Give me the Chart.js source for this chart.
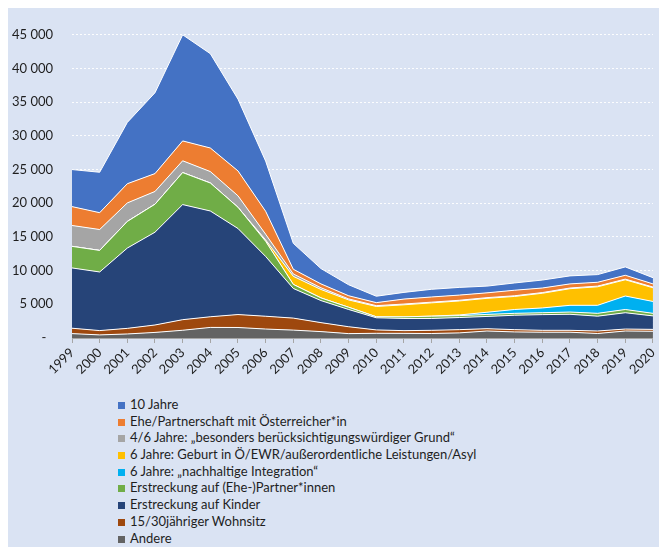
<!DOCTYPE html>
<html lang="de">
<head>
<meta charset="utf-8">
<title>Einbürgerungen nach Rechtsgrund</title>
<script src="https://cdn.jsdelivr.net/npm/chart.js@4.4.1/dist/chart.umd.min.js"></script>
<style>
  html, body { margin: 0; padding: 0; background: #ffffff; overflow: hidden; }
  #panel { position: absolute; left: 8px; top: 8px; width: 651px; height: 539px; background: #dae3f3; }
  #box { position: absolute; left: 0; top: 0; width: 658px; height: 378px; }
  #legende { position: absolute; left: 110px; top: 388px; margin: 0; padding: 0; list-style: none;
             font-family: Lato, sans-serif; font-size: 13px; color: #1e1e1e; }
  #legende li { height: 16.7px; line-height: 16.7px; white-space: nowrap; }
  #legende span { display: inline-block; width: 7px; height: 7px; margin-right: 5px; vertical-align: 0px; }
</style>
</head>
<body>
<div id="panel">
  <div id="box"><canvas id="grafik"></canvas></div>
  <ul id="legende"></ul>
</div>
<script>
const jahre = ['1999', '2000', '2001', '2002', '2003', '2004', '2005', '2006', '2007', '2008', '2009',
               '2010', '2011', '2012', '2013', '2014', '2015', '2016', '2017', '2018', '2019', '2020'];

// Einbürgerungen je Rechtsgrund, von unten nach oben gestapelt
const andere      = [650, 460, 600, 830, 1150, 1570, 1560, 1330, 1170, 950, 650, 700, 690, 670, 760, 1040, 900, 860, 860, 670, 1040, 1000];
const wohnsitz    = [800, 640, 830, 1100, 1570, 1580, 1920, 1900, 1780, 1330, 1020, 500, 400, 470, 480, 340, 340, 280, 280, 370, 290, 280];
const kinder      = [8950, 8700, 11920, 13770, 17080, 15700, 12770, 8870, 4400, 3270, 2560, 1800, 1810, 1760, 1800, 1820, 2140, 2330, 2380, 2200, 2420, 2000];
const partner     = [3200, 3200, 3950, 4150, 4750, 4150, 3150, 2250, 600, 400, 330, 150, 240, 340, 280, 300, 280, 280, 330, 420, 480, 380];
const integration = [0, 0, 0, 0, 0, 0, 0, 0, 0, 0, 0, 0, 0, 0, 100, 320, 570, 710, 1000, 1190, 2000, 1760];
const geburt      = [0, 0, 0, 0, 0, 0, 0, 200, 1200, 1250, 1090, 1530, 1790, 1980, 2080, 2070, 1940, 2180, 2470, 2750, 2410, 2040];
const grund       = [3100, 3100, 2750, 1900, 1750, 1700, 1700, 850, 350, 250, 150, 120, 110, 100, 100, 100, 100, 100, 100, 100, 100, 100];
const ehe         = [2800, 2500, 2850, 2650, 2950, 3500, 3700, 3400, 700, 580, 470, 450, 740, 770, 770, 710, 820, 680, 610, 570, 570, 470];
const zehnJahre   = [5500, 6000, 9100, 12000, 15750, 14000, 10650, 7450, 3850, 2270, 1630, 950, 990, 1140, 1140, 1000, 1080, 1180, 1190, 1140, 1240, 920];

const yTicks = [0, 5000, 10000, 15000, 20000, 25000, 30000, 35000, 40000, 45000];

const serien = [
  { label: 'Andere', data: andere, farbe: '#636363' },
  { label: '15/30jähriger Wohnsitz', data: wohnsitz, farbe: '#9e480e' },
  { label: 'Erstreckung auf Kinder', data: kinder, farbe: '#264478' },
  { label: 'Erstreckung auf (Ehe-)Partner*innen', data: partner, farbe: '#70ad47' },
  { label: '6 Jahre: „nachhaltige Integration“', data: integration, farbe: '#00b0f0' },
  { label: '6 Jahre: Geburt in Ö/EWR/außerordentliche Leistungen/Asyl', data: geburt, farbe: '#ffc000' },
  { label: '4/6 Jahre: „besonders berücksichtigungswürdiger Grund“', data: grund, farbe: '#a5a5a5' },
  { label: 'Ehe/Partnerschaft mit Österreicher*in', data: ehe, farbe: '#ed7d31' },
  { label: '10 Jahre', data: zehnJahre, farbe: '#4472c4' }
];

function tausender(v) {
  if (v === 0) return '-  ';
  return String(v).replace(/\B(?=(\d{3})+(?!\d))/g, ' ');
}

const schrift = { family: 'Lato, sans-serif', size: 13 };

const grafik = new Chart(document.getElementById('grafik'), {
  type: 'line',
  data: {
    labels: jahre,
    datasets: serien.map((s, i) => ({
      label: s.label,
      data: s.data,
      backgroundColor: s.farbe,
      borderColor: '#ffffff',
      borderWidth: 1,
      pointRadius: 0,
      tension: 0,
      fill: i === 0 ? 'origin' : '-1'
    }))
  },
  options: {
    responsive: true,
    maintainAspectRatio: false,
    animation: false,
    layout: { padding: { top: 14, right: 7, left: 0, bottom: 0 } },
    plugins: {
      legend: { display: false },
      tooltip: { enabled: false }
    },
    scales: {
      x: {
        offset: false,
        grid: { drawOnChartArea: false, drawTicks: true, tickLength: 5, color: '#a6a6a6' },
        border: { display: true, color: '#a6a6a6', width: 1 },
        ticks: { minRotation: 45, maxRotation: 45, color: '#1e1e1e', font: schrift, padding: 2 },
        afterFit: (scale) => { scale.height = 48; }
      },
      y: {
        stacked: true,
        min: 0,
        max: 45000,
        afterBuildTicks: (scale) => { scale.ticks = yTicks.map(v => ({ value: v })); },
        grid: { color: 'rgba(255,255,255,0.9)', drawTicks: false, lineWidth: 1 },
        border: { display: false, dash: [2, 2] },
        ticks: { color: '#1e1e1e', font: schrift, padding: 19, callback: (v) => tausender(v) },
        afterFit: (scale) => { scale.width = 64; }
      }
    }
  }
});

// Legende: oberste Fläche zuerst
const legende = document.getElementById('legende');
serien.slice().reverse().forEach(s => {
  const li = document.createElement('li');
  const q = document.createElement('span');
  q.style.background = s.farbe;
  li.appendChild(q);
  li.appendChild(document.createTextNode(s.label));
  legende.appendChild(li);
});
</script>
</body>
</html>
